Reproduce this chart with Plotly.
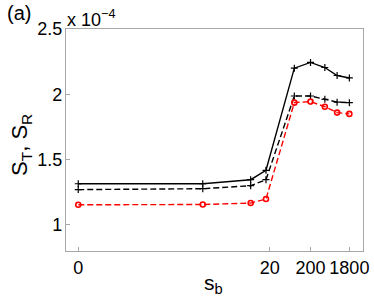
import numpy as np
import plotly.graph_objects as go

# s_b values and the three curves (values in units of 1e-4)
s_b = [0, 13, 18, 19.6, 80, 200, 450, 900, 1800]
s_t_solid = [1.315, 1.315, 1.346, 1.418, 2.20, 2.244, 2.205, 2.144, 2.125]
s_t_dashed = [1.27, 1.277, 1.30, 1.346, 1.987, 1.987, 1.962, 1.94, 1.936]
s_r_red = [1.154, 1.156, 1.167, 1.198, 1.936, 1.944, 1.905, 1.86, 1.85]

tick_vals = [0, 20, 200, 1800]
tick_text = ['0', '20', '200', '1800']

# axis is linear up to 20 and logarithmic after that
K = 4.25  # axis units per decade above 20


def squash(v):
    v = np.asarray(v, dtype=float)
    return np.where(v <= 20, v, 20 + K * np.log10(np.maximum(v, 20) / 20))


font = 'Liberation Sans, Arial, Helvetica, sans-serif'
dash = '6px,3px'

fig = go.Figure()
fig.add_trace(go.Scatter(x=squash(s_b), y=s_t_solid, mode='lines+markers',
                         line=dict(color='black', width=1.4),
                         marker=dict(symbol='cross-thin', size=5,
                                     line=dict(color='black', width=1.2))))
fig.add_trace(go.Scatter(x=squash(s_b), y=s_t_dashed, mode='lines+markers',
                         line=dict(color='black', width=1.4, dash=dash),
                         marker=dict(symbol='cross-thin', size=5,
                                     line=dict(color='black', width=1.2))))
fig.add_trace(go.Scatter(x=squash(s_b), y=s_r_red, mode='lines+markers',
                         line=dict(color='red', width=1.4, dash=dash),
                         marker=dict(symbol='circle-open', size=5,
                                     line=dict(color='red', width=1.6))))

axis_style = dict(showline=True, linecolor='#a8a8a8', linewidth=1.3, mirror=True,
                  ticks='inside', ticklen=4, tickcolor='#a8a8a8', showgrid=False,
                  zeroline=False, automargin=False,
                  tickfont=dict(family=font, size=18, color='black'))

fig.update_layout(width=374, height=305,
                  margin=dict(l=66, r=11, t=29, b=54),
                  plot_bgcolor='white', paper_bgcolor='white',
                  showlegend=False,
                  xaxis=dict(range=[-1.28, 29.73], tickvals=list(squash(tick_vals)),
                             ticktext=tick_text, tickangle=0, **axis_style),
                  yaxis=dict(range=[0.8, 2.5], tickvals=[1, 1.5, 2, 2.5],
                             ticktext=['1', '1.5', '2', '2.5'], ticklabelstandoff=-1,
                             **axis_style))

fig.add_annotation(text='(a)', xref='paper', yref='paper', x=-0.205, y=1.072,
                   xanchor='left', yanchor='middle', showarrow=False,
                   font=dict(family=font, size=20, color='black'))
fig.add_annotation(text='x 10<sup>−4</sup>', xref='paper', yref='paper', x=-0.005, y=0.985,
                   xanchor='left', yanchor='bottom', showarrow=False,
                   font=dict(family=font, size=18, color='black'))
fig.add_annotation(text='S<sub>T</sub>, S<sub>R</sub>', xref='paper', yref='paper',
                   x=-0.15, y=0.48, textangle=-90, xanchor='center', yanchor='middle',
                   showarrow=False, font=dict(family=font, size=22, color='black'))
fig.add_annotation(text='s<sub>b</sub>', xref='paper', yref='paper', x=0.495, y=-0.15,
                   xanchor='center', yanchor='middle', showarrow=False,
                   font=dict(family=font, size=21, color='black'))

# drop the browser's default body margin so the figure sits at the page corner
fig.write_html("out.html", config={'displayModeBar': False},
               post_script="document.body.style.margin='0';")
